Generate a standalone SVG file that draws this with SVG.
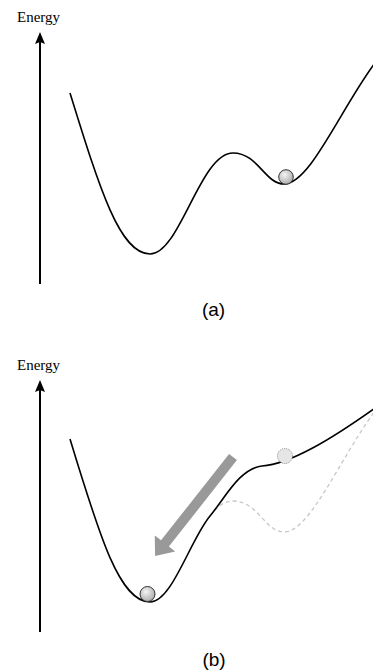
<svg xmlns="http://www.w3.org/2000/svg" width="373" height="671" viewBox="0 0 373 671">
<defs>
<style>
.lbl{font-family:"Liberation Serif","Times New Roman",serif;font-size:15px;fill:#000}
.cap{font-family:"Liberation Sans",Arial,sans-serif;font-size:19px;fill:#000;text-anchor:middle}
.axis{stroke:#000;stroke-width:2;fill:none}
.curve{stroke:#000;stroke-width:1.6;fill:none}
.dash{stroke:#c8c8c8;stroke-width:1.3;fill:none;stroke-dasharray:4 3}
.ball{fill:url(#g);stroke:#333;stroke-width:1}
.ghost{fill:#e6e6e6;stroke:#888;stroke-width:1;stroke-dasharray:1 1}
</style>
<radialGradient id="g" cx="0.4" cy="0.35" r="0.7">
<stop offset="0" stop-color="#f4f4f4"/>
<stop offset="1" stop-color="#a8a8a8"/>
</radialGradient>
</defs>
<rect width="373" height="671" fill="#fff"/>
<g id="panel-a">
<g id="axis-a">
<text class="lbl" x="17" y="22">Energy</text>
<line class="axis" x1="40" y1="42" x2="40" y2="284"/>
<polygon points="40,32 35,44 40,42 45,44" fill="#000"/>
</g>
<g id="curve-a">
<path class="curve" d="M70,93 C100,190 120,254 150,254 C180,254 200,153 233,153 C258,153 265,184 284,184 C310,184 340,110 375,63"/>
</g>
<g id="ball-a"><circle class="ball" cx="286" cy="177" r="7.3"/></g>
<text id="label-a" class="cap" x="213.5" y="316">(a)</text>
</g>
<g id="panel-b">
<g id="axis-b">
<text class="lbl" x="17" y="370">Energy</text>
<line class="axis" x1="40" y1="390" x2="40" y2="632"/>
<polygon points="40,380 35,392 40,390 45,392" fill="#000"/>
</g>
<g id="curve-b-old">
<path class="dash" d="M210,516 C217,507 224,501 233,501 C258,501 265,532 284,532 C310,532 340,458 375,411"/>
</g>
<g id="curve-b">
<path class="curve" d="M70,439 C100,538 120,602 150,602 C172,602 190,540 210,516 C225,498 240,468 262,466 C290,464 330,440 375,408"/>
</g>
<g id="ghost-ball"><circle class="ghost" cx="285" cy="456" r="7.5"/></g>
<g id="roll-arrow"><polygon points="0,-5 110,-5 110,-13 126,0 110,13 110,5 0,5" fill="#999" transform="translate(233,457) rotate(128.2)"/></g>
<g id="ball-b"><circle class="ball" cx="147.5" cy="594" r="7.5"/></g>
<text id="label-b" class="cap" x="214" y="666">(b)</text>
</g>
</svg>
